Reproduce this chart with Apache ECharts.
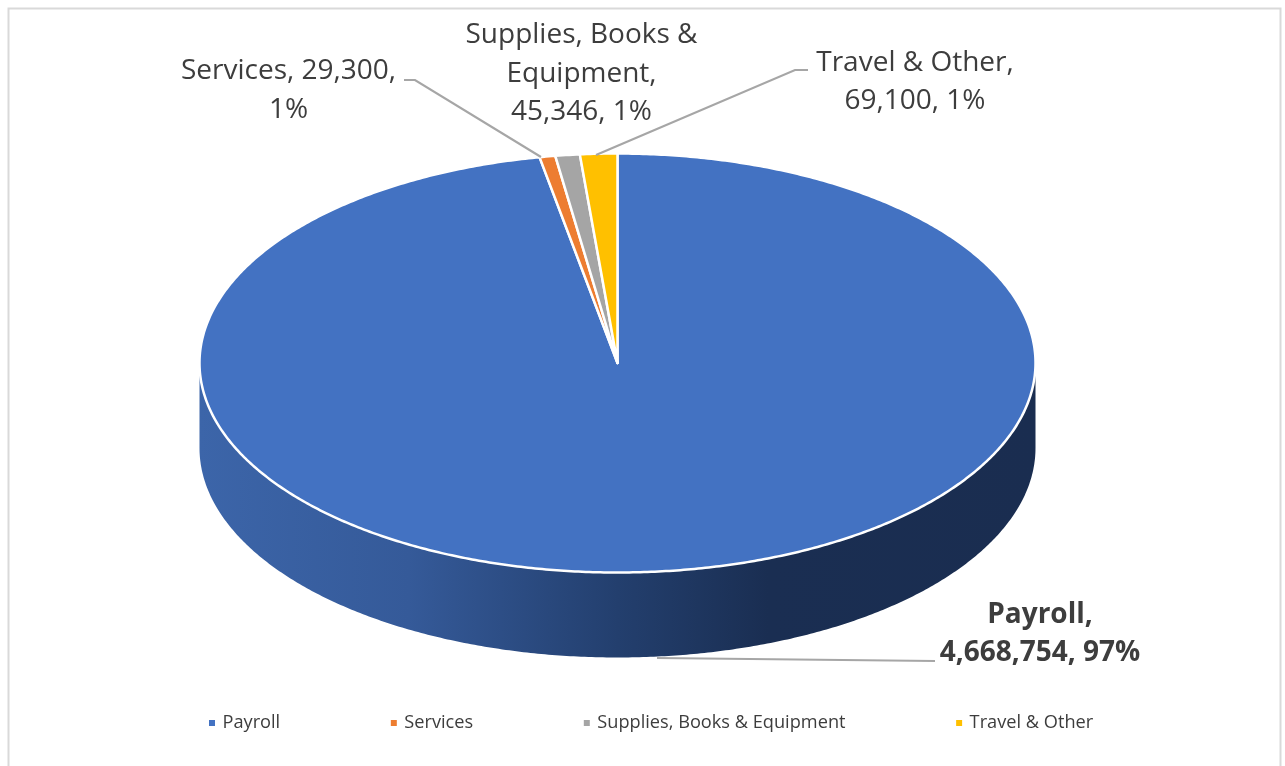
<!DOCTYPE html>
<html>
<head>
<meta charset="utf-8">
<style>html,body{margin:0;padding:0;background:#fff}#chart{width:1285px;height:766px}</style>
<script src="https://cdn.jsdelivr.net/npm/echarts@6/dist/echarts.min.js"></script>
</head>
<body>
<div id="chart"></div>
<script>
// Expense categories, in clockwise order from twelve o'clock.
const categories = ['Payroll', 'Services', 'Supplies, Books & Equipment', 'Travel & Other'];
const amounts = [4668754, 29300, 45346, 69100];
const sliceColors = ['#4372c2', '#ed7d31', '#a5a5a5', '#ffc000'];
const labelText = [
  'Payroll,\n{v}, {p}%',
  'Services, {v},\n{p}%',
  'Supplies, Books &\nEquipment,\n{v}, {p}%',
  'Travel & Other,\n{v}, {p}%'
];

// Tilted disc geometry.
const CX = 617.5, CY = 363, RX = 418, RY = 209.5, DEPTH = 85;
const FONT = '"Open Sans", sans-serif';
const INK = '#3d3d3d';
const LEADER = '#a6a6a6';
const labelAnchors = [[1040, 634], [288.5, 90.5], [581.5, 74], [915, 82]];
const leaderPoints = [
  [[657, 658], [935, 661]],
  [[404, 80], [415, 80], [541, 157]],
  null,
  [[808, 70], [795, 70], [596, 155]]
];

const total = amounts.reduce((a, b) => a + b, 0);

function ellipsePoint(turn, dy) {
  const t = turn * Math.PI * 2;
  return [CX + RX * Math.sin(t), CY - RY * Math.cos(t) + (dy || 0)];
}

function slicePolygon(from, to) {
  const pts = [[CX, CY]];
  const steps = Math.max(4, Math.ceil((to - from) * 720));
  for (let i = 0; i <= steps; i++) pts.push(ellipsePoint(from + (to - from) * i / steps));
  return pts;
}

function wallPolygon() {
  const pts = [];
  for (let i = 0; i <= 360; i++) pts.push(ellipsePoint(0.25 + 0.5 * i / 360, DEPTH));
  for (let i = 360; i >= 0; i--) pts.push(ellipsePoint(0.25 + 0.5 * i / 360));
  return pts;
}

function formatLabel(i) {
  return labelText[i]
    .replace('{v}', amounts[i].toLocaleString('en-US'))
    .replace('{p}', Math.round(amounts[i] / total * 100));
}

function sliceSeries(i) {
  const start = amounts.slice(0, i).reduce((a, b) => a + b, 0) / total;
  const end = start + amounts[i] / total;
  return {
    type: 'custom',
    name: categories[i],
    coordinateSystem: 'none',
    itemStyle: { color: sliceColors[i] },
    data: [[amounts[i]]],
    z: 3,
    renderItem() {
      const children = [{
        type: 'polygon',
        shape: { points: slicePolygon(start, end) },
        style: { fill: sliceColors[i], stroke: '#fff', lineWidth: 2.5, lineJoin: 'round' }
      }];
      if (leaderPoints[i]) {
        children.push({
          type: 'polyline',
          shape: { points: leaderPoints[i] },
          style: { fill: 'none', stroke: LEADER, lineWidth: 2.2 }
        });
      }
      children.push({
        type: 'text',
        x: labelAnchors[i][0],
        y: labelAnchors[i][1],
        style: {
          text: formatLabel(i),
          fill: INK,
          font: (i === 0 ? 'bold ' : '') + '28px ' + FONT,
          lineHeight: 38.5,
          align: 'center',
          verticalAlign: 'middle'
        }
      });
      return { type: 'group', children };
    }
  };
}

const wallSeries = {
  type: 'custom',
  name: 'wall',
  coordinateSystem: 'none',
  data: [[amounts[0]]],
  z: 2,
  silent: true,
  renderItem() {
    return {
      type: 'polygon',
      shape: { points: wallPolygon() },
      style: {
        fill: {
          type: 'linear', global: true,
          x: CX - RX, y: 0, x2: CX + RX, y2: 0,
          colorStops: [
            { offset: 0, color: '#3c65a9' },
            { offset: 0.25, color: '#355a99' },
            { offset: 0.5, color: '#233f6e' },
            { offset: 0.68, color: '#1a2e52' },
            { offset: 1, color: '#1a2d50' }
          ]
        }
      }
    };
  }
};

const chart = echarts.init(document.getElementById('chart'));
chart.setOption({
  animation: false,
  backgroundColor: '#fff',
  legend: {
    data: categories,
    top: 714,
    left: 209,
    icon: 'rect',
    itemWidth: 6,
    itemHeight: 6,
    itemGap: 110.6,
    padding: 0,
    textStyle: { color: INK, fontFamily: FONT, fontSize: 18.2, padding: [0, 0, 0, 2.5] }
  },
  graphic: [{
    type: 'rect',
    shape: { x: 8.5, y: 8.5, width: 1272, height: 800 },
    style: { fill: 'none', stroke: '#d9d9d9', lineWidth: 2 },
    silent: true,
    z: 0
  }],
  series: [wallSeries].concat(categories.map((_, i) => sliceSeries(i)))
});
</script>
</body>
</html>
